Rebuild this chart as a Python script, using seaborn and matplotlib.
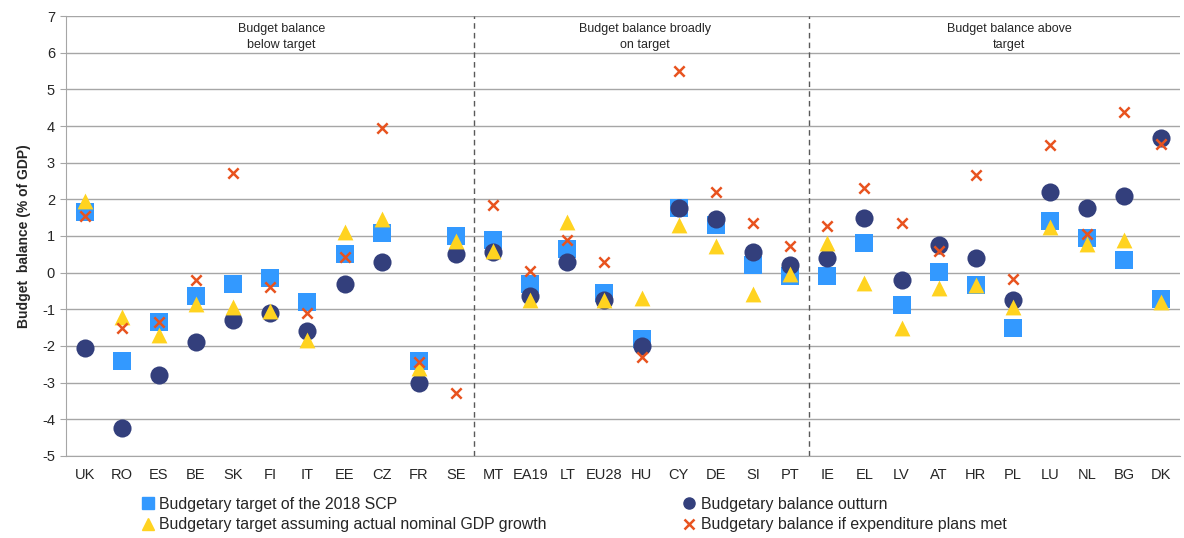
import matplotlib
matplotlib.use("Agg")
import matplotlib.pyplot as plt
import seaborn as sns
import pandas as pd
from matplotlib.lines import Line2D

countries = ["UK", "RO", "ES", "BE", "SK", "FI", "IT", "EE", "CZ", "FR", "SE",
             "MT", "EA19", "LT", "EU28", "HU", "CY", "DE", "SI", "PT",
             "IE", "EL", "LV", "AT", "HR", "PL", "LU", "NL", "BG", "DK"]

target_scp = [1.65, -2.4, -1.35, -0.65, -0.3, -0.15, -0.8, 0.5, 1.08, -2.4, 1.0,
              0.9, -0.3, 0.65, -0.55, -1.8, 1.75, 1.3, 0.2, -0.1,
              -0.1, 0.8, -0.88, 0.02, -0.35, -1.5, 1.42, 0.95, 0.35, -0.72]
outturn = [-2.05, -4.25, -2.8, -1.9, -1.3, -1.1, -1.6, -0.3, 0.3, -3.0, 0.52,
           0.55, -0.65, 0.3, -0.75, -2.0, 1.75, 1.45, 0.55, 0.2,
           0.4, 1.48, -0.2, 0.75, 0.4, -0.75, 2.2, 1.75, 2.1, 3.68]
target_gdp = [1.95, -1.2, -1.7, -0.85, -0.95, -1.05, -1.85, 1.1, 1.45, -2.6, 0.85,
              0.6, -0.75, 1.38, -0.75, -0.7, 1.3, 0.72, -0.58, -0.05,
              0.82, -0.28, -1.5, -0.42, -0.35, -0.95, 1.25, 0.78, 0.9, -0.8]
exp_plans = [1.55, -1.5, -1.35, -0.2, 2.72, -0.4, -1.1, 0.42, 3.95, -2.45, -3.28,
             1.85, 0.05, 0.88, 0.28, -2.3, 5.5, 2.2, 1.35, 0.72,
             1.28, 2.32, 1.35, 0.6, 2.65, -0.18, 3.48, 1.05, 4.38, 3.5]

group_labels = ["Budget balance\nbelow target", "Budget balance broadly\non target",
                "Budget balance above\ntarget"]
series_names = ["Budgetary target of the 2018 SCP", "Budgetary balance outturn",
                "Budgetary target assuming actual nominal GDP growth",
                "Budgetary balance if expenditure plans met"]

c_sq = "#3399FF"
c_ci = "#333F7C"
c_tr = "#FFD320"
c_x = "#E8531F"

sns.set_style("white")
plt.rcParams["font.family"] = ["Liberation Sans", "DejaVu Sans"]
plt.rcParams["axes.unicode_minus"] = False

fig = plt.figure(figsize=(11.84, 5.38), dpi=100)
ax = fig.add_axes([66/1184, 1-456/538, (1180-66)/1184, 440/538])

df = pd.DataFrame({"country": countries, "sq": target_scp, "ci": outturn,
                   "tr": target_gdp, "x": exp_plans})

sns.scatterplot(data=df, x="country", y="sq", marker="s", color=c_sq, s=150,
                linewidth=0, ax=ax, zorder=3)
sns.scatterplot(data=df, x="country", y="ci", marker="o", color=c_ci, s=170,
                linewidth=0, ax=ax, zorder=4)
sns.scatterplot(data=df, x="country", y="tr", marker="^", color=c_tr, s=130,
                linewidth=0, ax=ax, zorder=5)
sns.scatterplot(data=df, x="country", y="x", marker="x", color=c_x, s=55,
                linewidth=1.8, ax=ax, zorder=6)

ax.set_xlim(-0.5, 29.5)
ax.set_ylim(-5, 7)
ax.set_yticks(range(-5, 8))
ax.yaxis.grid(True, color="#A6A6A6", linewidth=1.0)
ax.set_axisbelow(True)
for s in ["top", "right"]:
    ax.spines[s].set_visible(False)
ax.spines["left"].set_color("#A6A6A6")
ax.spines["bottom"].set_color("#A6A6A6")
ax.tick_params(axis="y", left=True, length=4, color="#A6A6A6", labelsize=10.5, pad=4)
ax.tick_params(axis="x", bottom=False, labelsize=10.5, pad=5)
ax.set_xlabel("")
ax.set_ylabel("Budget  balance (% of GDP)", fontsize=10, fontweight="bold", labelpad=8)

for xv in [10.5, 19.5]:
    ax.axvline(xv, color="#595959", linestyle=(0, (4, 3)), linewidth=1)

for xc, lab in zip([5.3, 15.1, 24.9], group_labels):
    ax.text(xc, 6.8, lab, ha="center", va="top", fontsize=9, linespacing=1.45)

handles = [
    Line2D([], [], marker="s", color=c_sq, linestyle="", markersize=8),
    Line2D([], [], marker="^", color=c_tr, linestyle="", markersize=8),
    Line2D([], [], marker="o", color=c_ci, linestyle="", markersize=8),
    Line2D([], [], marker="x", color=c_x, linestyle="", markersize=7, markeredgewidth=1.8),
]
labels = [series_names[0], series_names[2], series_names[1], series_names[3]]
fig.legend(handles, labels, ncol=2, loc="upper left", bbox_to_anchor=(0.12, 0.077),
           frameon=False, fontsize=11.4, handlelength=0.8, handletextpad=0.3,
           columnspacing=8.6, labelspacing=0.35, borderaxespad=0, borderpad=0)

fig.savefig("out.png", dpi=100)
